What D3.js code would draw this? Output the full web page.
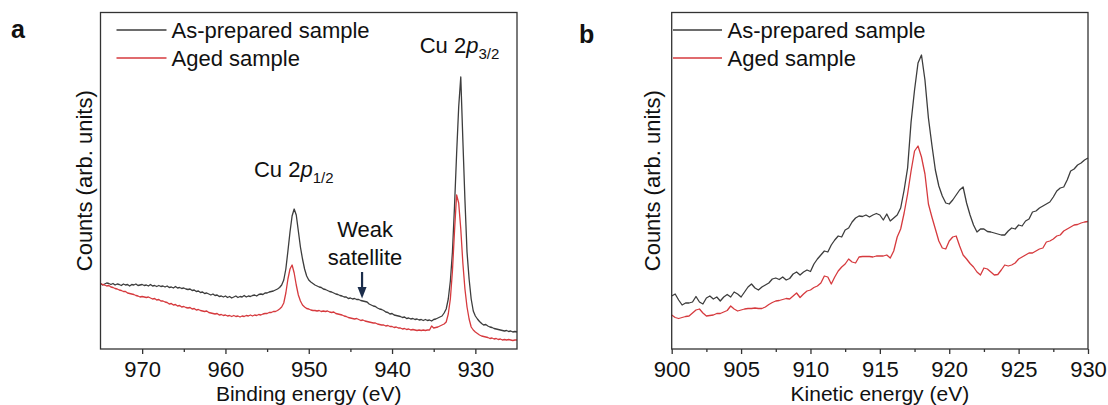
<!DOCTYPE html>
<html>
<head>
<meta charset="utf-8">
<script src="https://cdn.jsdelivr.net/npm/d3@7"></script>
<style>
  body { margin: 0; background: #fff; }
  svg text { font-family: "Liberation Sans", Arial, Helvetica, sans-serif; fill: #111; }
</style>
</head>
<body>
<svg id="fig" width="1108" height="405"></svg>
<script>
// ---------------- Data ----------------
// (a) Cu 2p XPS spectra, binding energy 975 -> 925 eV, 0.25 eV steps
const bindingStart = 975, bindingStep = 0.25;
const xpsAsPrepared = [
  65.5,64,65,66,65.5,64.5,65.5,64,65,64.5,63.5,65,64,64.5,63,64.5,64,65,63.5,64,
  64.5,63.5,64,63,64.5,63,63.5,62.5,63.5,62.5,63,62,63,61.5,62,61,62.5,61,61.5,60.5,
  61,60,59.5,60,58.5,59,57.5,58,56.5,57,55.5,56,55,54,55,53.5,54,52.5,53,52,
  53,51.5,52.5,51,52,53,51.5,52.5,52,53.5,52,53,52.5,53.5,54,53,54.5,55,54.5,56,
  56,57,57.5,58,59,60,61.5,64,69,80,98,117,133,140,134,118,102,90,80,73,
  69,67,65.5,64,63,62,61.5,60,59.5,58.5,57.5,57,56,55,54.5,53.5,53,52,52,50.5,
  51,50,50.5,49.5,49.5,48.5,48,47.5,47,45,44,43,42.5,41,40,39.5,38.5,37,36.5,35,
  35.5,34,33.5,33,32.5,31.5,32,30.5,31,30,30.5,29.5,30,29,29.5,28.5,29.5,28.5,29,28,
  29.5,30,31,32,33,36,40,50,68,97,143,195,242,272,209,149,97,70,50,38,
  33,30,27.5,25.5,24,24.5,23,22,21.5,20.5,20,19.5,19,18.5,18,18.5,17.5,18,17,17.5,
  17
];
const xpsAged = [
  65.5,64.5,64,63,63.5,62,61.5,60.5,60,59,58.5,57.5,57.5,56,55.5,55,54.5,53.5,53,52,
  52.5,52,51.5,52,51,50,50.5,49,49.5,48,48,47,46.5,45,45.5,44,44.5,43,43.5,42,
  42.5,41.5,41,41.5,40,40.5,39,39.5,38.5,38,37.5,38,36.5,36,35.5,35,35.5,34,34.5,33.5,
  34,33,33.5,32.5,33.5,32.5,33,32,33,32.5,33.5,33,34,33,34,33.5,34.5,34,35,35.5,
  35.5,36.5,36.5,37.5,37.5,38.5,40,42,46,56,70,80,84,76,64,54,48,44,42,40.5,
  40,39,38.5,38.5,38,38.5,37.5,38,37.5,38,37,36.5,37,35.5,35,34.5,34,33,32.5,31.5,
  31,30.5,30,30.5,29.5,28.5,29,28,27.5,27,26.5,26,26,25,24.5,24,24,23,23.5,22.5,
  22.5,21.5,22,21,21,20,20.5,19.5,20,19,19.5,19,18.5,19,18.5,19,18.5,19,19,23,
  21,21.5,22,23,24,25,27,35,50,78,118,154,146,120,86,60,42,30,22,19,
  17,15.5,14,13,12.5,12,11.5,10.5,11,10,10.5,9.5,10,9,9.5,9,9.5,9,8.5,9,
  9
];

// (b) Cu LMM Auger spectra, kinetic energy 900 -> 930 eV, 0.25 eV steps
const kineticStart = 900, kineticStep = 0.25;
const aesAsPrepared = [
  53,55,49,44,46,46,47,52.5,47,45,51,53,50,52,48,52,54.5,52,57,55,
  52,57,62,65,61,59,62,64,66,70,71,69.5,72,69,70.5,75,77,74,77,79,
  77.5,85,90,94,98,97,104,109,113,112,119,121,127,131,133,132.5,134,132,134,135.5,
  134,129,135,128,131,134,141,159,181,227,259,286,294,269,231,204,179,163,153,146,
  145,149,154,159,162,146,134,124,117,120,120,117.5,117,116,115,114,114,118,121,120,
  124,123,128,130,137,138,141,143,145,147,152,158,161,162,169,178,180,184,186,189,
  191
];
const aesAged = [
  34,31.5,30.5,31.5,32.5,33,36,39,40,36,33,33.5,34,35.5,35.5,37,38.5,43,40,38,
  39,40,40.5,40.5,41,40.5,40.5,42,44.5,46.5,48,48.5,49.5,50.5,50,53,56,51.5,55,58,
  59,61.5,63,66,73,72,65,72,78,82,85,90,87,86,92,92.5,92.5,92.5,92,93,
  93,93,94,91,98,112,120,136,155,178,198,203,192,175,145,132,120,108,101,100,
  108,112,113,103,94,90,85.5,82,77,74,81,80,77,74,74.5,79,84,83,84,86,
  90,92,94,96,96,98,100,101,107,108,110,113,114,118,120,122,124,124.5,126,127,
  127.5
];

const seriesNames = ["As-prepared sample", "Aged sample"];
const seriesColors = ["#3d3d3d", "#d63a3e"];
const ticksA = [970, 960, 950, 940, 930];
const minorTicksA = [965, 955, 945, 935];
const ticksB = [900, 905, 910, 915, 920, 925, 930];
const minorTicksB = [902.5, 907.5, 912.5, 917.5, 922.5, 927.5];

const energiesA = xpsAsPrepared.map((_, i) => bindingStart - i * bindingStep);
const energiesB = aesAsPrepared.map((_, i) => kineticStart + i * kineticStep);

// ---------------- Layout ----------------
const svg = d3.select("#fig");
const FONT = 22;
const axisColor = "#333";
const plotTop = 12.5, plotBottom = 349;

const panels = [
  {
    id: "a", letterX: 11, letterY: 37.5,
    x0: 100.5, x1: 517, domain: [975, 925],
    ticks: ticksA, minor: minorTicksA,
    xTitle: "Binding energy (eV)", yTitleX: 91.5,
    energies: energiesA, series: [xpsAsPrepared, xpsAged],
    legendLine: [116.5, 166.5], legendText: 171.5
  },
  {
    id: "b", letterX: 579, letterY: 43,
    x0: 671.7, x1: 1088, domain: [900, 930],
    ticks: ticksB, minor: minorTicksB,
    xTitle: "Kinetic energy (eV)", yTitleX: 660,
    energies: energiesB, series: [aesAsPrepared, aesAged],
    legendLine: [673, 722], legendText: 727.5
  }
];

const y = d3.scaleLinear().domain([0, 336.5]).range([plotBottom, plotTop]);

panels.forEach(p => {
  const x = d3.scaleLinear().domain(p.domain).range([p.x0, p.x1]);
  p.x = x;
  const g = svg.append("g");

  // spectra
  const line = d3.line().x((d, i) => x(p.energies[i])).y(d => y(d));
  p.series.forEach((vals, k) => {
    g.append("path")
      .datum(vals)
      .attr("d", line)
      .attr("fill", "none")
      .attr("stroke", seriesColors[k])
      .attr("stroke-width", 1.3)
      .attr("stroke-linejoin", "round");
  });

  // frame
  g.append("rect")
    .attr("x", p.x0).attr("y", plotTop)
    .attr("width", p.x1 - p.x0).attr("height", plotBottom - plotTop)
    .attr("fill", "none").attr("stroke", axisColor).attr("stroke-width", 1.3);

  // bottom axis: major ticks with labels
  const ax = g.append("g")
    .attr("transform", `translate(0,${plotBottom})`)
    .call(d3.axisBottom(x).tickValues(p.ticks).tickFormat(d3.format("d"))
      .tickSize(5).tickSizeOuter(0).tickPadding(7));
  ax.select(".domain").remove();
  ax.selectAll("line").attr("stroke", axisColor).attr("stroke-width", 1.3);
  ax.selectAll("text").attr("font-size", FONT).attr("fill", "#111")
    .attr("font-family", '"Liberation Sans", Arial, sans-serif');

  // minor ticks
  const mx = g.append("g")
    .attr("transform", `translate(0,${plotBottom})`)
    .call(d3.axisBottom(x).tickValues(p.minor).tickFormat("").tickSize(3).tickSizeOuter(0));
  mx.select(".domain").remove();
  mx.selectAll("line").attr("stroke", axisColor).attr("stroke-width", 1.3);

  // axis titles
  g.append("text")
    .attr("x", (p.x0 + p.x1) / 2).attr("y", 400.5)
    .attr("text-anchor", "middle").attr("font-size", 21)
    .text(p.xTitle);
  g.append("text")
    .attr("transform", `translate(${p.yTitleX},${(plotTop + plotBottom) / 2}) rotate(-90)`)
    .attr("text-anchor", "middle").attr("font-size", FONT)
    .text("Counts (arb. units)");

  // panel letter
  g.append("text")
    .attr("x", p.letterX).attr("y", p.letterY)
    .attr("font-size", 25).attr("font-weight", "bold")
    .text(p.id);

  // legend
  seriesNames.forEach((name, k) => {
    const ly = 30 + k * 28;
    g.append("line")
      .attr("x1", p.legendLine[0]).attr("x2", p.legendLine[1])
      .attr("y1", ly).attr("y2", ly)
      .attr("stroke", seriesColors[k]).attr("stroke-width", 1.3);
    g.append("text")
      .attr("x", p.legendText).attr("y", ly + 7.8)
      .attr("font-size", FONT)
      .text(name);
  });
});

// ---------------- Annotations on panel (a) ----------------
const xa = panels[0].x;
function peakLabel(energy, baseline, sub) {
  const t = svg.append("text")
    .attr("x", xa(energy)).attr("y", baseline)
    .attr("text-anchor", "middle").attr("font-size", FONT);
  t.append("tspan").text("Cu 2");
  t.append("tspan").attr("font-style", "italic").text("p");
  t.append("tspan").attr("font-size", 15).attr("dy", 6).text(sub);
}
peakLabel(951.8, 176.5, "1/2");
peakLabel(931.9, 52.5, "3/2");

const satelliteEnergy = 943.6;
svg.append("text")
  .attr("x", xa(satelliteEnergy) + 3).attr("y", 236.5)
  .attr("text-anchor", "middle").attr("font-size", FONT)
  .text("Weak");
svg.append("text")
  .attr("x", xa(satelliteEnergy) + 3).attr("y", 265)
  .attr("text-anchor", "middle").attr("font-size", FONT)
  .text("satellite");

const arrowColor = "#1b2d4b";
const arrowX = xa(satelliteEnergy);
svg.append("line")
  .attr("x1", arrowX).attr("x2", arrowX)
  .attr("y1", 272).attr("y2", 289)
  .attr("stroke", arrowColor).attr("stroke-width", 2.2);
svg.append("path")
  .attr("d", d3.line()([[arrowX - 4.5, 287], [arrowX + 4.5, 287], [arrowX, 298.5]]) + "Z")
  .attr("fill", arrowColor);
</script>
</body>
</html>
